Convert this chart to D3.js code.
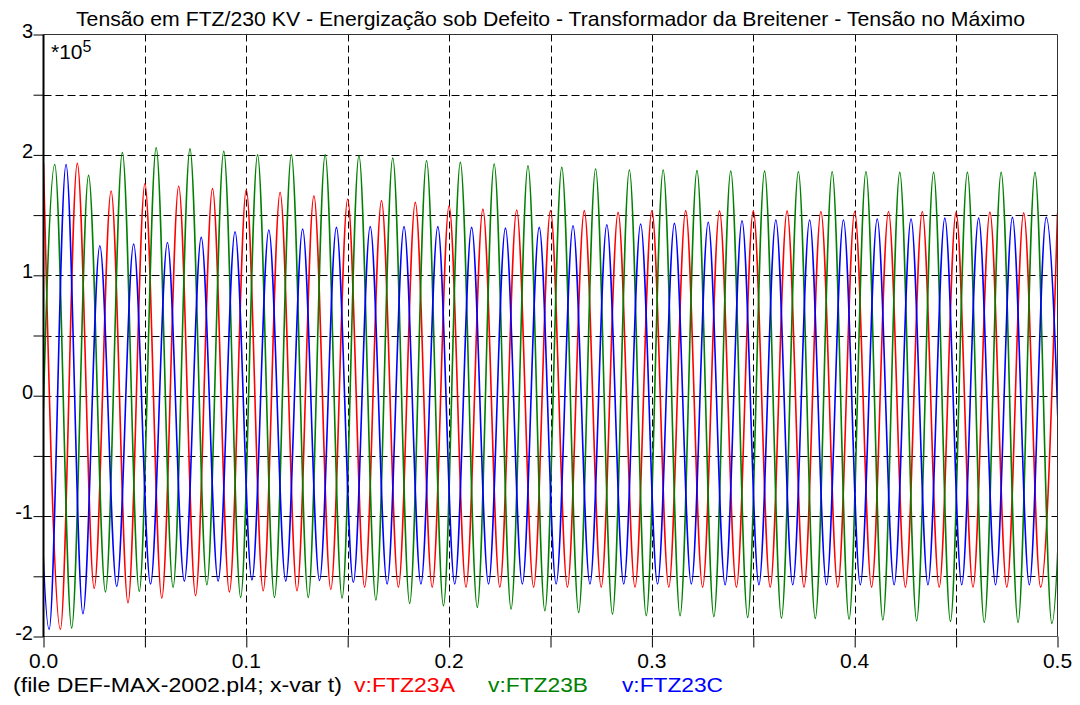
<!DOCTYPE html>
<html>
<head>
<meta charset="utf-8">
<script src="https://cdn.jsdelivr.net/npm/d3@7"></script>
<style>
  html, body { margin: 0; padding: 0; background: #ffffff; }
  svg { display: block; }
  text { font-family: "Liberation Sans", Arial, sans-serif; fill: #000; }
</style>
</head>
<body>
<svg id="chart" width="1080" height="705"></svg>
<script>
// ---------------- data (values in units of 10^5 V) ----------------
const titleText = "Tensão em FTZ/230 KV - Energização sob Defeito - Transformador da Breitener - Tensão no Máximo";
const footerText = "(file DEF-MAX-2002.pl4; x-var t)";
const seriesNames = ["v:FTZ23A", "v:FTZ23B", "v:FTZ23C"];
const seriesColors = ["#ff0000", "#008000", "#0000ff"];

const xTickValues = [0, 0.1, 0.2, 0.3, 0.4, 0.5];
const xTickLabels = ["0.0", "0.1", "0.2", "0.3", "0.4", "0.5"];
const yTickValues = [-2, -1, 0, 1, 2, 3];
const yTickLabels = ["-2", "-1", "0", "1", "2", "3"];
const scaleLabel = "*10";
const scaleExponent = "5";

const frequencyHz = 60;

// Phase A (red): first peak at 0 cycles, first trough at 0.5 cycles
const redPeakStart = 0, redTroughStart = 0.5;
const redPeaks = [1.93, 1.93, 1.70, 1.76, 1.74, 1.72, 1.71, 1.69, 1.66, 1.634,
                  1.62, 1.606, 1.578, 1.55, 1.542, 1.537, 1.537, 1.523, 1.537, 1.537,
                  1.535, 1.535, 1.535, 1.53, 1.53, 1.53, 1.53, 1.525, 1.525, 1.52, 1.515];
const redTroughs = [-1.94, -1.60, -1.72, -1.68, -1.66, -1.63, -1.62, -1.62, -1.61, -1.59,
                    -1.59, -1.59, -1.59, -1.59, -1.59, -1.59, -1.59, -1.59, -1.59, -1.59,
                    -1.59, -1.59, -1.59, -1.59, -1.59, -1.59, -1.59, -1.59, -1.59, -1.59];

// Phase B (green): first peak at 1/3 cycle, first trough at -1/6 cycle
const greenPeakStart = 1 / 3, greenTroughStart = -1 / 6;
const greenPeaks = [1.92, 1.83, 2.02, 2.06, 2.05, 2.03, 2.00, 2.00, 2.00, 1.993,
                    1.974, 1.952, 1.938, 1.924, 1.91, 1.896, 1.883, 1.874, 1.874, 1.869,
                    1.865, 1.865, 1.86, 1.86, 1.86, 1.855, 1.855, 1.855, 1.855, 1.855, 1.855];
const greenTroughs = [-1.90, -1.93, -1.63, -1.625, -1.59, -1.57, -1.675, -1.675, -1.675, -1.68,
                      -1.697, -1.725, -1.744, -1.758, -1.772, -1.786, -1.80, -1.813, -1.827, -1.827,
                      -1.835, -1.841, -1.847, -1.85, -1.855, -1.863, -1.869, -1.874, -1.883, -1.883, -1.891];

// Phase C (blue): first peak at -1/3 cycle, first trough at 1/6 cycle
const bluePeakStart = -1 / 3, blueTroughStart = 1 / 6;
const bluePeaks = [1.90, 1.92, 1.246, 1.26, 1.273, 1.315, 1.362, 1.376, 1.384, 1.398,
                   1.404, 1.404, 1.404, 1.398, 1.392, 1.398, 1.412, 1.42, 1.426, 1.431,
                   1.44, 1.453, 1.459, 1.459, 1.459, 1.467, 1.467, 1.475, 1.475, 1.481, 1.481];
const blueTroughs = [-1.94, -1.81, -1.584, -1.564, -1.54, -1.54, -1.53, -1.54, -1.535, -1.55,
                     -1.564, -1.564, -1.564, -1.564, -1.564, -1.564, -1.564, -1.564, -1.564, -1.564,
                     -1.57, -1.57, -1.57, -1.57, -1.57, -1.57, -1.57, -1.57, -1.57, -1.57, -1.57];

// ---------------- build ----------------
const svg = d3.select("#chart");
const W = 1080, H = 705;
const margin = { left: 43.5, right: 1057.5, top: 34.5, bottom: 636.5 };

const x = d3.scaleLinear().domain([0, 0.5]).range([margin.left, margin.right]);
const y = d3.scaleLinear().domain([-2, 3]).range([margin.bottom, margin.top]);

svg.append("rect").attr("width", W).attr("height", H).attr("fill", "#fff");

// clip
svg.append("defs").append("clipPath").attr("id", "plotClip")
  .append("rect")
  .attr("x", x(0)).attr("y", y(3))
  .attr("width", x(0.5) - x(0)).attr("height", y(-2) - y(3));

// grid lines
const gridX = d3.range(1, 10).map(i => i * 0.05);
const gridY = d3.range(-3, 6).map(i => i * 0.5);
const grid = svg.append("g");
grid.selectAll("line.gx").data(gridX).join("line")
  .attr("x1", d => Math.round(x(d)) + 0.5).attr("x2", d => Math.round(x(d)) + 0.5)
  .attr("y1", y(3)).attr("y2", y(-2))
  .attr("stroke", "#000").attr("stroke-width", 1).attr("stroke-dasharray", "7,4");
grid.selectAll("line.gy").data(gridY).join("line")
  .attr("x1", x(0)).attr("x2", x(0.5))
  .attr("y1", d => Math.round(y(d)) + 0.5).attr("y2", d => Math.round(y(d)) + 0.5)
  .attr("stroke", "#000").attr("stroke-width", 1).attr("stroke-dasharray", "8,4");

// series
function buildPoints(peaks, peakStart, troughs, troughStart) {
  const T = 1 / frequencyHz;
  const pts = peaks.map((v, k) => ({ t: (peakStart + k) * T, v }))
    .concat(troughs.map((v, k) => ({ t: (troughStart + k) * T, v })));
  return pts.sort((a, b) => a.t - b.t);
}
const series = [
  buildPoints(redPeaks, redPeakStart, redTroughs, redTroughStart),
  buildPoints(greenPeaks, greenPeakStart, greenTroughs, greenTroughStart),
  buildPoints(bluePeaks, bluePeakStart, blueTroughs, blueTroughStart)
];
const line = d3.line().x(d => x(d.t)).y(d => y(d.v)).curve(d3.curveMonotoneX);
const plot = svg.append("g").attr("clip-path", "url(#plotClip)");
series.forEach((pts, i) => {
  plot.append("path").datum(pts)
    .attr("d", line)
    .attr("fill", "none")
    .attr("stroke", seriesColors[i])
    .attr("stroke-width", 1.6)
    .attr("stroke-linejoin", "round");
});

// frame
const frame = svg.append("g");
frame.append("line").attr("x1", x(0)).attr("x2", x(0.5)).attr("y1", y(3)).attr("y2", y(3))
  .attr("stroke", "#333").attr("stroke-width", 1);
frame.append("line").attr("x1", x(0.5)).attr("x2", x(0.5)).attr("y1", y(3)).attr("y2", y(-2))
  .attr("stroke", "#333").attr("stroke-width", 1);
frame.append("line").attr("x1", x(0)).attr("x2", x(0.5)).attr("y1", y(-2)).attr("y2", y(-2))
  .attr("stroke", "#555").attr("stroke-width", 1);
frame.append("line").attr("x1", x(0)).attr("x2", x(0)).attr("y1", y(3)).attr("y2", y(-2) + 0.5)
  .attr("stroke", "#000").attr("stroke-width", 2);

// axes (ticks via d3 axis generators)
const yAxis = d3.axisLeft(y).tickValues(d3.range(-4, 7).map(i => i * 0.5))
  .tickSize(10).tickFormat("");
const gy = svg.append("g").attr("transform", `translate(${x(0)},0)`).call(yAxis);
gy.select(".domain").remove();
gy.selectAll(".tick line").attr("stroke", "#000").attr("stroke-width", 1);

const xAxis = d3.axisBottom(x).tickValues(d3.range(0, 11).map(i => i * 0.05))
  .tickSize(11).tickFormat("");
const gx = svg.append("g").attr("transform", `translate(0,${y(-2)})`).call(xAxis);
gx.select(".domain").remove();
gx.selectAll(".tick line").attr("stroke", "#000").attr("stroke-width", 1);

// tick labels
svg.append("g").selectAll("text").data(yTickValues).join("text")
  .attr("x", 33).attr("y", d => y(d) + 3)
  .attr("text-anchor", "end").attr("font-size", 20)
  .text((d, i) => yTickLabels[i]);
svg.append("g").selectAll("text").data(xTickValues).join("text")
  .attr("x", d => x(d)).attr("y", 668)
  .attr("text-anchor", "middle").attr("font-size", 21)
  .text((d, i) => xTickLabels[i]);

// scale factor
const sf = svg.append("text").attr("x", 51).attr("y", 59).attr("font-size", 21);
sf.append("tspan").text(scaleLabel);
sf.append("tspan").attr("dy", -7).attr("font-size", 16).text(scaleExponent);

// title
svg.append("text").attr("x", 76).attr("y", 26).attr("font-size", 21)
  .attr("textLength", 949).attr("lengthAdjust", "spacingAndGlyphs")
  .text(titleText);

// footer / legend
svg.append("text").attr("x", 13).attr("y", 692).attr("font-size", 20)
  .attr("textLength", 329).attr("lengthAdjust", "spacingAndGlyphs")
  .text(footerText);
const legendX = [354, 488, 622];
const legendW = [101, 100, 101];
svg.append("g").selectAll("text").data(seriesNames).join("text")
  .attr("x", (d, i) => legendX[i]).attr("y", 692).attr("font-size", 20)
  .attr("textLength", (d, i) => legendW[i]).attr("lengthAdjust", "spacingAndGlyphs")
  .style("fill", (d, i) => seriesColors[i])
  .text(d => d);
</script>
</body>
</html>
